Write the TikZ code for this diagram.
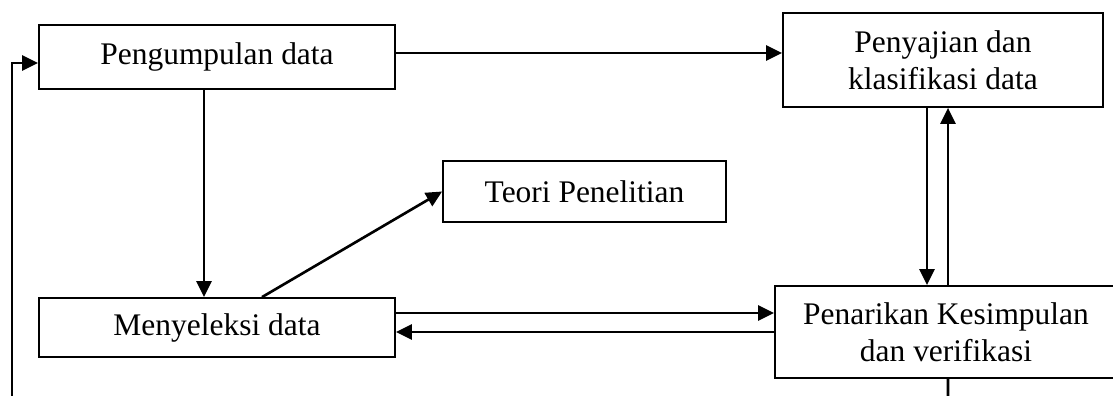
\documentclass[tikz,border=0pt]{standalone}
\usepackage{fontspec}
\setmainfont{Liberation Serif}
\usepackage{tikz}
\usetikzlibrary{arrows.meta}

\begin{document}
\begin{tikzpicture}[>={Triangle[length=0.32cm,width=0.3cm]},line width=1.5pt]
    \tikzstyle{kotak}=[draw,rectangle,line width=1pt,inner sep=0pt,align=center,font=\fontsize{17.9pt}{21pt}\selectfont]
    \useasboundingbox (0,0) rectangle (22.26,-7.92);
    \node[kotak,minimum width=7.12cm,minimum height=1.28cm] (kumpul) at (4.34,-1.14) {Pengumpulan data};
    \node[kotak,minimum width=6.40cm,minimum height=1.88cm] (saji) at (18.86,-1.20) {Penyajian dan\\klasifikasi data};
    \node[kotak,minimum width=5.66cm,minimum height=1.22cm] (teori) at (11.69,-3.83) {Teori Penelitian};
    \node[kotak,minimum width=7.12cm,minimum height=1.18cm] (seleksi) at (4.34,-6.55) {Menyeleksi data};
    \node[kotak,minimum width=6.84cm,minimum height=1.84cm] (tarik) at (18.92,-6.64) {Penarikan Kesimpulan\\dan verifikasi};
    \coordinate (ujungkanan) at (18.96,-7.95);
    \coordinate (ujungkiri) at (0.24,-7.95);
    \draw[->] ([yshift=0.08cm]kumpul.east) -- ([yshift=0.08cm]kumpul.east -| saji.west);
    \draw[->] ([xshift=-0.26cm]kumpul.south) -- ([xshift=-0.26cm]seleksi.north);
    \draw[->] ([xshift=0.9cm]seleksi.north) -- (teori.west);
    \draw[->] ([yshift=0.29cm]seleksi.east) -- ([yshift=0.29cm]seleksi.east -| tarik.west);
    \draw[<-] ([yshift=-0.09cm]seleksi.east) -- ([yshift=-0.09cm]seleksi.east -| tarik.west);
    \draw[->] ([xshift=-0.32cm]saji.south) -- ([xshift=-0.32cm]saji.south |- tarik.north);
    \draw[<-] ([xshift=0.1cm]saji.south) -- ([xshift=0.1cm]saji.south |- tarik.north);
    \draw ([xshift=0.04cm]tarik.south) -- (ujungkanan);
    \draw[->] (ujungkiri) |- ([yshift=-0.12cm]kumpul.west);
\end{tikzpicture}
\end{document}
